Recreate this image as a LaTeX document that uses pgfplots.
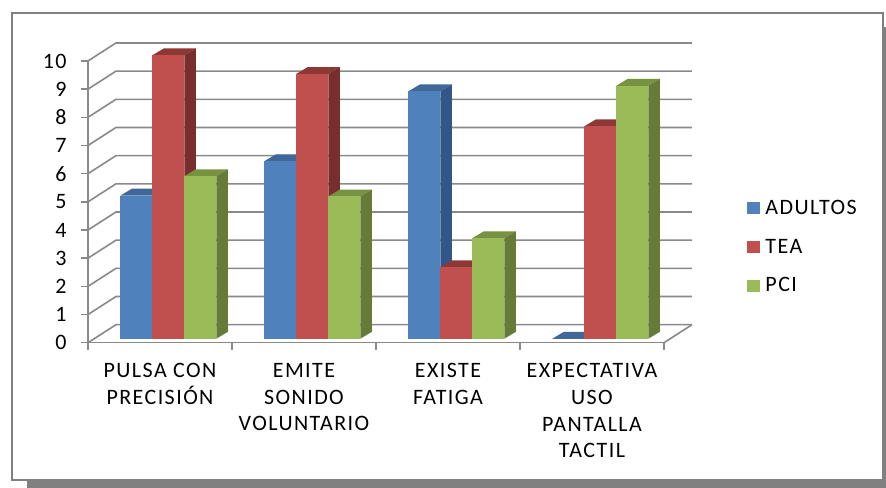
\documentclass[border=0pt]{standalone}
\usepackage{fontspec}
\setmainfont{Carlito}[LetterSpace=6.5]
\usepackage{pgfplots}
\pgfplotsset{compat=1.18}

\definecolor{rule}{HTML}{898989}
\definecolor{edge}{HTML}{808080}
\definecolor{blueF}{HTML}{4F81BD}
\definecolor{blueS}{HTML}{30568A}
\definecolor{blueT}{HTML}{3F6797}
\definecolor{redF}{HTML}{C0504D}
\definecolor{redS}{HTML}{772E2C}
\definecolor{redT}{HTML}{8E3836}
\definecolor{greenF}{HTML}{9BBB59}
\definecolor{greenS}{HTML}{677B38}
\definecolor{greenT}{HTML}{779240}

% depth of the floor and of each column, in axis units
\def\wallDx{0.1944}
\def\wallDv{0.639}
\def\barDx{0.08}
\def\barDv{0.245}
\def\barBase{0.14}
\def\barW{0.2222}

% one prism: #1 category, #2 slot in the group, #3 value, #4 colour stem
\newcommand{\prism}[4]{%
  \pgfmathsetmacro{\xa}{#1+0.2243+#2*\barW}%
  \pgfmathsetmacro{\xb}{\xa+\barW}%
  \pgfmathsetmacro{\xc}{\xa+\barDx}%
  \pgfmathsetmacro{\xd}{\xb+\barDx}%
  \pgfmathsetmacro{\va}{\barBase}%
  \pgfmathsetmacro{\vb}{#3+\barBase}%
  \pgfmathsetmacro{\vc}{\va+\barDv}%
  \pgfmathsetmacro{\vd}{\vb+\barDv}%
  \addplot[forget plot,fill=#4T,draw=none] coordinates {(\xa,\vb) (\xc,\vd) (\xd,\vd) (\xb,\vb)} -- cycle;
  \addplot[forget plot,fill=#4S,draw=none] coordinates {(\xb,\va) (\xd,\vc) (\xd,\vd) (\xb,\vb)} -- cycle;
  \addplot[forget plot,fill=#4F,draw=none] coordinates {(\xa,\va) (\xb,\va) (\xb,\vb) (\xa,\vb)} -- cycle;
}
% one grid level across the back wall and along the side wall
\newcommand{\level}[1]{%
  \pgfmathsetmacro{\vb}{#1+\wallDv}%
  \addplot[forget plot,rule,line width=1.2pt] coordinates {(0,#1) (\wallDx,\vb) (4.1944,\vb)};
}

\begin{document}
\begin{tikzpicture}
  % chart area with its drop shadow; lengths in pixels from the top left corner
  \begin{scope}[x=0.75pt,y=-0.75pt,shift={(0pt,366pt)}]
    \fill[white] (0,0) rectangle (886,488);
    \fill[edge] (27,27) rectangle (886,488);
    \filldraw[fill=white,draw=edge,line width=1.5pt] (11.5,13) rectangle (883,480);
  \end{scope}
  \begin{axis}[
      at={(66pt,108.975pt)}, anchor=south west,
      scale only axis, width=432pt, height=211.3pt,
      xmin=0, xmax=4, ymin=0, ymax=10,
      clip=false,
      axis x line=bottom, axis y line=left,
      axis line style={draw=rule,line width=1.2pt,-},
      tick align=outside,
      tick style={draw=rule,line width=1.2pt},
      major tick length=5.6pt,
      font=\fontsize{16.5}{20}\selectfont,
      /pgf/number format/assume math mode=true,
      ytick={0,1,2,3,4,5,6,7,8,9,10},
      yticklabel style={xshift=-7pt,black},
      xtick={0,1,2,3,4},
      xticklabels={},
      extra x ticks={0.5,1.5,2.5,3.5},
      extra x tick labels={{PULSA CON\\PRECISIÓN},{EMITE\\SONIDO\\VOLUNTARIO},{EXISTE\\FATIGA},{EXPECTATIVA\\USO\\PANTALLA\\TACTIL}},
      extra x tick style={major tick length=0pt,tick style={draw=none}},
      xticklabel style={align=center,anchor=north,yshift=-12pt,black},
      legend cell align=left,
      legend style={draw=none,fill=none,inner sep=0pt,
        at={(axis cs:4.576,5.17)},anchor=north west,
        font=\fontsize{16.5}{20}\selectfont,
        row sep=13pt},
      legend image code/.code={\fill[#1] (0pt,-4.1pt) rectangle (9pt,4.1pt);\path[draw=none,fill=none] (0pt,-1pt) rectangle (11.5pt,1pt);},
    ]
    % floor and walls
    \level{0}\level{1}\level{2}\level{3}\level{4}\level{5}
    \level{6}\level{7}\level{8}\level{9}\level{10}
    \addplot[forget plot,rule,line width=1.2pt] coordinates {(4,0) (4.1944,0.639)};

    % PULSA CON PRECISIÓN
    \prism{0}{0}{5.08}{blue}
    \prism{0}{1}{10.06}{red}
    \prism{0}{2}{5.77}{green}
    % EMITE SONIDO VOLUNTARIO
    \prism{1}{0}{6.3}{blue}
    \prism{1}{1}{9.4}{red}
    \prism{1}{2}{5.05}{green}
    % EXISTE FATIGA
    \prism{2}{0}{8.78}{blue}
    \prism{2}{1}{2.54}{red}
    \prism{2}{2}{3.57}{green}
    % EXPECTATIVA USO PANTALLA TACTIL
    \prism{3}{0}{0}{blue}
    \prism{3}{1}{7.54}{red}
    \prism{3}{2}{8.98}{green}

    \addlegendimage{blueF}\addlegendentry{ADULTOS}
    \addlegendimage{redF}\addlegendentry{TEA}
    \addlegendimage{greenF}\addlegendentry{PCI}
  \end{axis}
\end{tikzpicture}
\end{document}
